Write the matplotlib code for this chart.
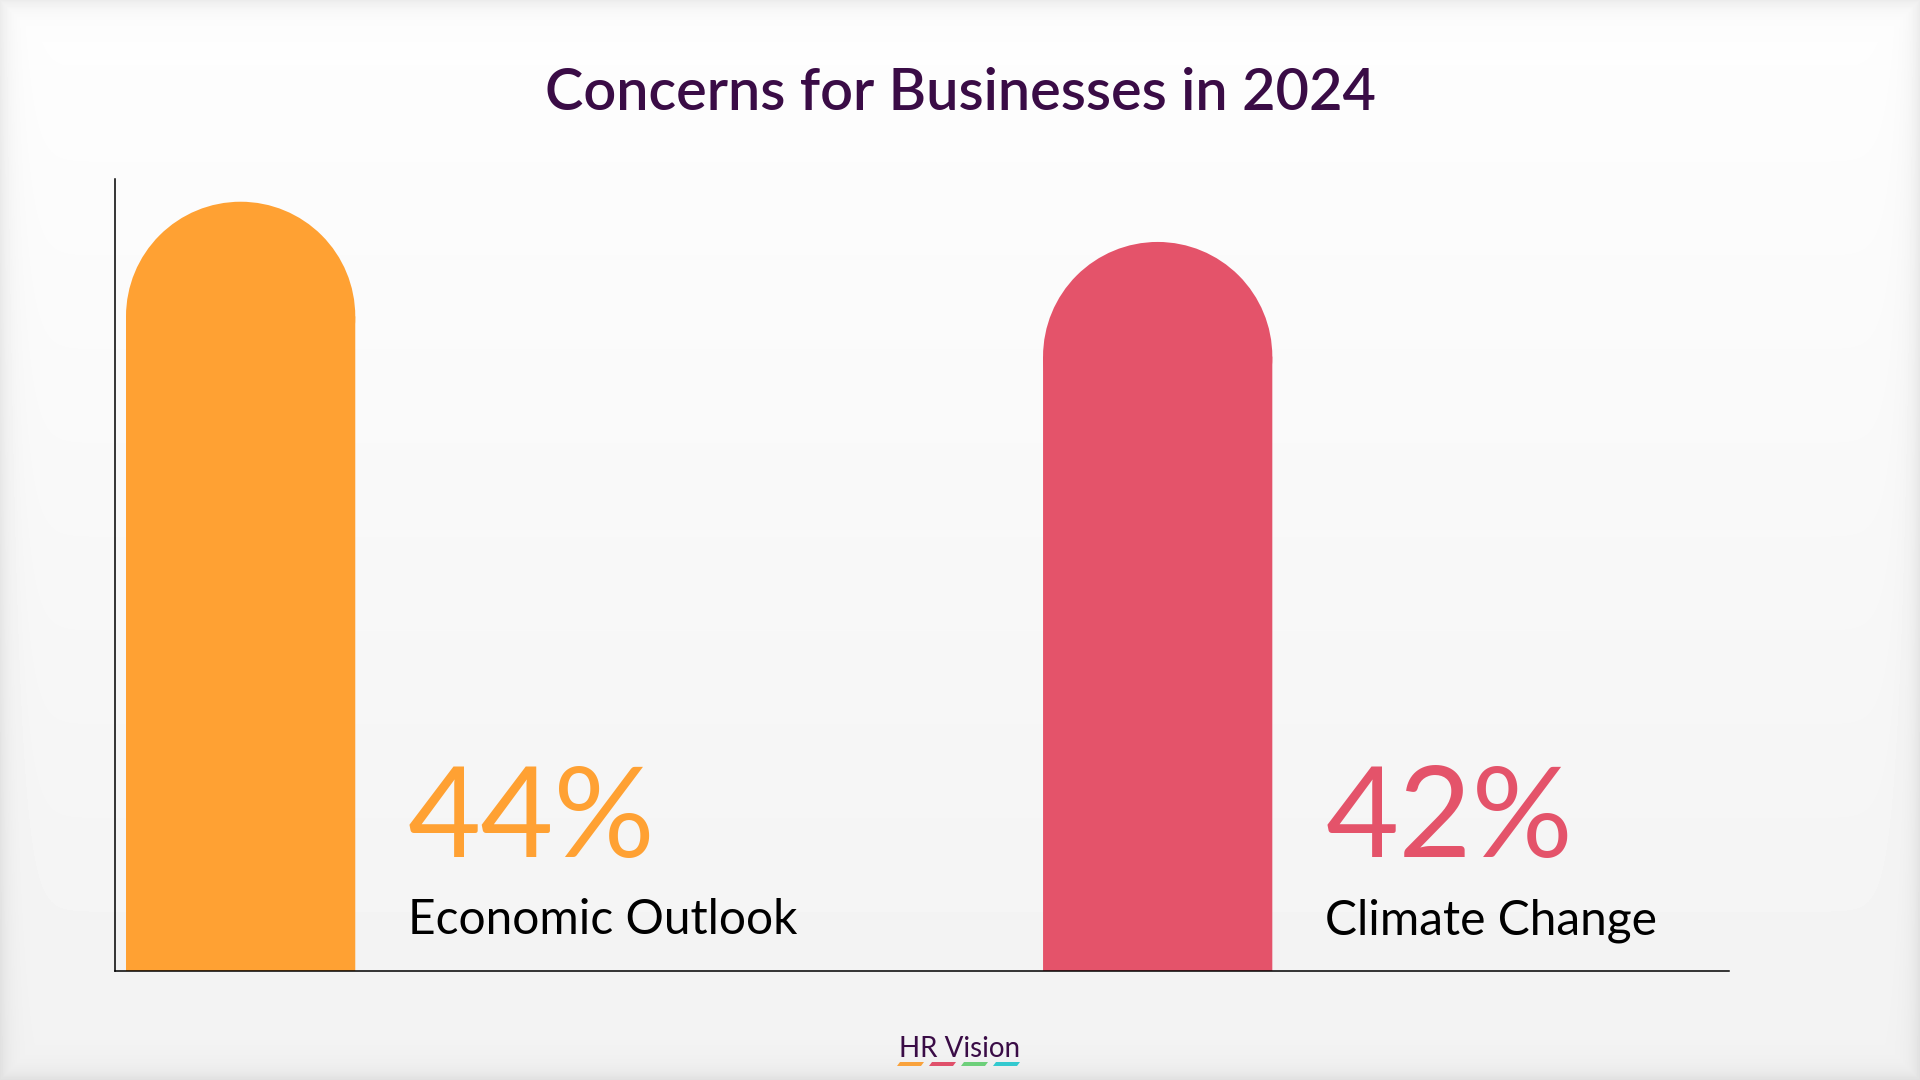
import numpy as np
import matplotlib
matplotlib.use('Agg')
import matplotlib.pyplot as plt
from matplotlib.patches import Ellipse, Polygon

categories = ['Economic Outlook', 'Climate Change']
values = [44, 41.7]
value_labels = ['44%', '42%']
bar_colors = ['#FFA133', '#E4536A']
logo_colors = ['#F9A23C', '#E0506A', '#6DCF7A', '#33C9CF']

plt.rcParams['font.family'] = ['Lato', 'DejaVu Sans']

W, H = 1920, 1080
fig = plt.figure(figsize=(W / 100, H / 100), dpi=100)

# background: soft vertical gradient with a shaded frame
yy, xx = np.mgrid[0:H, 0:W]
grad = 0.995 - 0.045 * (yy / H)
edge = np.minimum.reduce([xx, W - 1 - xx, yy, H - 1 - yy]).astype(float)
shade = 0.07 * np.exp(-edge / 10.0)
bg = np.clip(grad - shade, 0, 1)
bg_ax = fig.add_axes([0, 0, 1, 1], zorder=-10)
bg_ax.imshow(bg, cmap='gray', vmin=0, vmax=1, aspect='auto')
bg_ax.axis('off')

# main axes
left, right, top, bottom = 115, 1729, 179, 971
ax = fig.add_axes([left / W, (H - bottom) / H, (right - left) / W, (bottom - top) / H])
ax.patch.set_alpha(0)
x = np.arange(len(categories))
width = 0.25
ax.set_xlim(-0.137, 1.623)
ax.set_ylim(0, 45.3)

# radius of the rounded top in y data units (circle in pixels)
p0 = ax.transData.transform((0, 0))
p1 = ax.transData.transform((1, 1))
ry = (width / 2) * (p1[0] - p0[0]) / (p1[1] - p0[1])

for i, v in enumerate(values):
    bars = ax.bar(x[i], v - ry, width=width, color=bar_colors[i], linewidth=0)
    for b in bars:
        b.set_snap(False)
    ax.add_patch(Ellipse((x[i], v - ry), width, 2 * ry, color=bar_colors[i], linewidth=0))
    ax.annotate(value_labels[i], xy=(x[i] + width / 2, 0), xytext=(38, 82),
                textcoords='offset points', fontsize=91, color=bar_colors[i],
                ha='left', va='baseline')
    ax.annotate(categories[i], xy=(x[i] + width / 2, 0), xytext=(38, 26.5),
                textcoords='offset points', fontsize=34.5, color='black',
                ha='left', va='baseline')

for s in ['top', 'right']:
    ax.spines[s].set_visible(False)
for s in ['left', 'bottom']:
    ax.spines[s].set_linewidth(1.1)
    ax.spines[s].set_color('black')
ax.set_xticks([])
ax.set_yticks([])

fig.text(0.5, 1 - 110 / H, 'Concerns for Businesses in 2024', ha='center', va='baseline',
         fontsize=41.5, fontweight='semibold', color='#3A0C46')

# logo
fig.text(0.5, 1 - 1057 / H, 'HR Vision', ha='center', va='baseline',
         fontsize=20, color='#3A0C46')
seg_w, gap, x0 = 27, 5, 897
for k, c in enumerate(logo_colors):
    xs = x0 + k * (seg_w + gap)
    pts = [(xs, 1066), (xs + seg_w - 3, 1066), (xs + seg_w, 1062), (xs + 3, 1062)]
    fig.patches.append(Polygon([(px / W, 1 - py / H) for px, py in pts], closed=True,
                               transform=fig.transFigure, color=c, linewidth=0))

fig.savefig('out.png', dpi=100)
